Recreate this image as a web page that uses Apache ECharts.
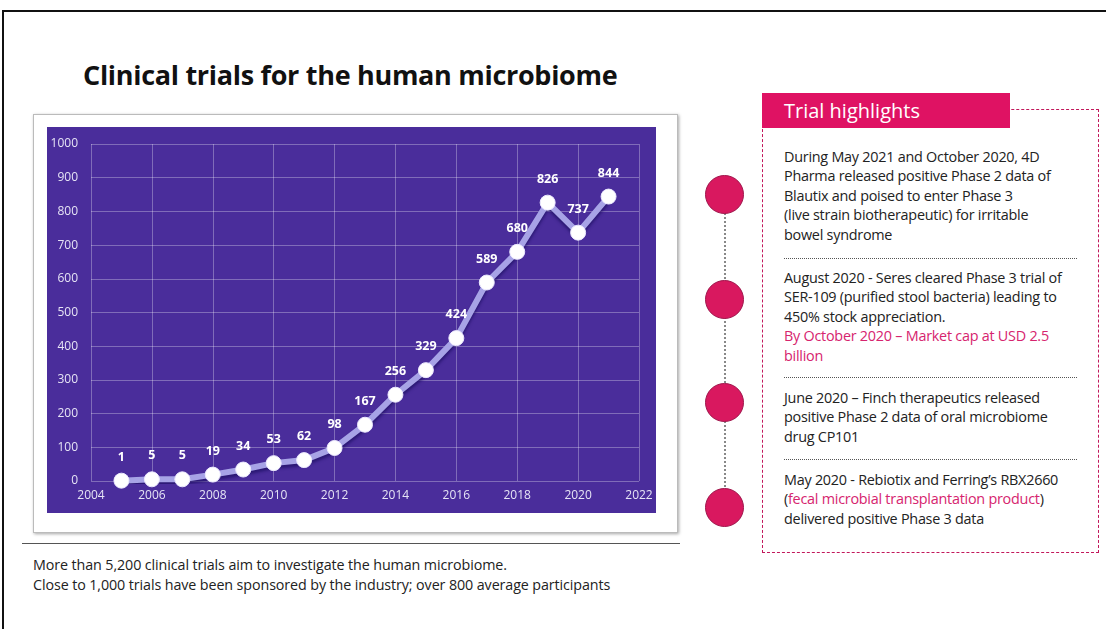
<!DOCTYPE html>
<html>
<head>
<meta charset="utf-8">
<script src="https://cdn.jsdelivr.net/npm/echarts@6/dist/echarts.min.js"></script>
<style>
  html, body { margin: 0; padding: 0; background: #fff; }
  body { width: 1106px; height: 629px; position: relative; overflow: hidden; font-family: "Open Sans", "Noto Sans", sans-serif; color: #222; }
  .frame-top { position: absolute; left: 3px; top: 10px; width: 1110px; height: 2px; background: #111; }
  .frame-left { position: absolute; left: 2px; top: 10px; width: 2px; height: 630px; background: #111; }
  .title { position: absolute; left: 83px; top: 56px; font-size: 27px; font-weight: 700; color: #111; white-space: nowrap; letter-spacing: -0.3px; }
  .panel { position: absolute; left: 33px; top: 114px; width: 643px; height: 417px; border: 1px solid #bbb; box-shadow: 1px 1px 3px rgba(0,0,0,0.35); background: #fff; }
  #chart { position: absolute; left: 47px; top: 127px; width: 609px; height: 386px; }
  .rule { position: absolute; left: 22px; top: 543px; width: 658px; height: 1px; background: #555; }
  .note { position: absolute; left: 33px; font-size: 14.3px; color: #222; white-space: nowrap; letter-spacing: -0.1px; }
  .box { position: absolute; left: 762px; top: 109px; width: 335px; height: 442px; border: 1px dashed #c2185b; border-left-width: 1.5px; }
  .head { position: absolute; left: 762px; top: 93px; width: 248px; height: 35px; background: #df1263; color: #fff; font-size: 20px; line-height: 35px; box-sizing: border-box; padding-left: 22px; }
  .vline { position: absolute; left: 724px; top: 196px; height: 311px; width: 0; border-left: 2px dotted #888; }
  .dot { position: absolute; width: 37px; height: 37px; border-radius: 50%; background: #d9185f; border: 1.5px solid #a0164c; }
  .txt { position: absolute; left: 784px; font-size: 14.4px; line-height: 19.4px; color: #222; letter-spacing: -0.25px; white-space: nowrap; }
  .pink { color: #d6246e; }
  .sep { position: absolute; left: 784px; width: 293px; height: 0; border-top: 1px dotted #555; }
</style>
</head>
<body>
<div class="frame-top"></div>
<div class="frame-left"></div>
<div class="title">Clinical trials for the human microbiome</div>
<div class="panel"></div>
<div id="chart"></div>
<div class="rule"></div>
<div class="note" style="top:555px">More than 5,200 clinical trials aim to investigate the human microbiome.</div>
<div class="note" style="top:575px">Close to 1,000 trials have been sponsored by the industry; over 800 average participants</div>

<div class="box"></div>
<div class="head">Trial highlights</div>
<div class="vline"></div>
<div class="dot" style="left:705px;top:175px"></div>
<div class="dot" style="left:705px;top:280px"></div>
<div class="dot" style="left:705px;top:383px"></div>
<div class="dot" style="left:705px;top:488px"></div>

<div class="txt" style="top:147px">During May 2021 and October 2020, 4D<br>Pharma released positive Phase 2 data of<br>Blautix and poised to enter Phase 3<br>(live strain biotherapeutic) for irritable<br>bowel syndrome</div>
<div class="sep" style="top:258px"></div>
<div class="txt" style="top:268px">August 2020 - Seres cleared Phase 3 trial of<br>SER-109 (purified stool bacteria) leading to<br>450% stock appreciation.<br><span class="pink">By October 2020 – Market cap at USD 2.5<br>billion</span></div>
<div class="sep" style="top:377px"></div>
<div class="txt" style="top:388px">June 2020 – Finch therapeutics released<br>positive Phase 2 data of oral microbiome<br>drug CP101</div>
<div class="sep" style="top:459px"></div>
<div class="txt" style="top:470px">May 2020 - Rebiotix and Ferring’s RBX2660<br>(<span class="pink">fecal microbial transplantation product</span>)<br>delivered positive Phase 3 data</div>

<script>
// 数据
const years = [2005, 2006, 2007, 2008, 2009, 2010, 2011, 2012, 2013, 2014, 2015, 2016, 2017, 2018, 2019, 2020, 2021];
const trials = [1, 5, 5, 19, 34, 53, 62, 98, 167, 256, 329, 424, 589, 680, 826, 737, 844];

const chart = echarts.init(document.getElementById("chart"));
chart.setOption({
  backgroundColor: "#4a2d9b",
  animation: false,
  grid: { left: 44, right: 17, top: 17, bottom: 32 },
  xAxis: {
    type: "value",
    min: 2004,
    max: 2022,
    interval: 2,
    axisLine: { show: false },
    axisTick: { show: false },
    axisLabel: { color: "#e6e4f5", fontSize: 12, margin: 9, fontFamily: "Open Sans", formatter: (v) => String(v) },
    splitLine: { lineStyle: { color: "rgba(255,255,255,0.3)", width: 1 } },
  },
  yAxis: {
    type: "value",
    min: 0,
    max: 1000,
    interval: 100,
    axisLine: { show: false },
    axisTick: { show: false },
    axisLabel: { color: "#e6e4f5", fontSize: 12, margin: 13, fontFamily: "Open Sans", formatter: (v) => String(v) },
    splitLine: { lineStyle: { color: "rgba(255,255,255,0.3)", width: 1 } },
  },
  series: [
    {
      type: "line",
      data: years.map((y, i) => [y, trials[i]]),
      symbol: "circle",
      symbolSize: 15,
      itemStyle: { color: "#ffffff", borderColor: "#ece9ff", borderWidth: 1 },
      lineStyle: {
        color: "#a7a3e6",
        width: 6,
        shadowColor: "rgba(30,15,100,0.7)",
        shadowBlur: 3,
        shadowOffsetY: 3,
      },
      label: {
        show: true,
        position: "top",
        distance: 9,
        color: "#ffffff",
        fontWeight: "bold",
        fontSize: 12.5,
        fontFamily: "Open Sans",
      },
      z: 3,
    },
  ],
});
</script>
</body>
</html>
